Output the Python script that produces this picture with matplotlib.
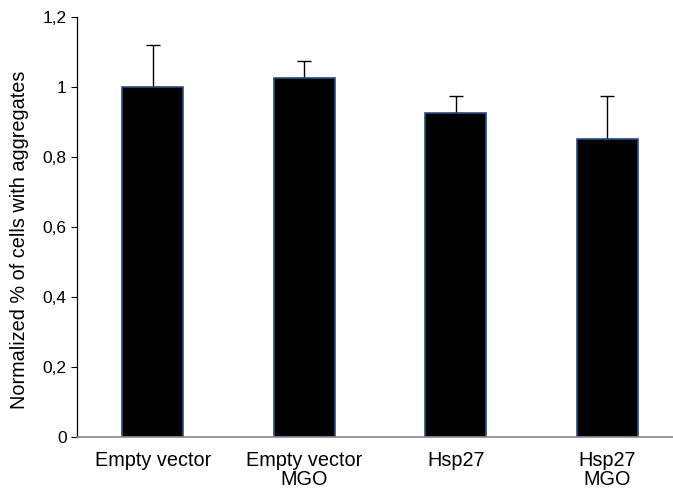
import matplotlib.pyplot as plt

# Datos
grupos = ['Empty vector', 'Empty vector\nMGO', 'Hsp27', 'Hsp27\nMGO']
valores = [1.0, 1.025, 0.925, 0.851]
errores = [0.12, 0.051, 0.05, 0.124]
ticks_y = [0, 0.2, 0.4, 0.6, 0.8, 1.0, 1.2]
etiquetas_y = ['0', '0,2', '0,4', '0,6', '0,8', '1', '1,2']

plt.rcParams['font.family'] = ['Liberation Sans', 'DejaVu Sans']

fig = plt.figure(figsize=(6.73, 4.93), dpi=100)
ax = fig.add_axes([0.1144, 0.1142, 0.9004, 0.8507])

x = range(len(grupos))
ax.bar(x, valores, width=0.4, color='black', edgecolor='#2a4d7e', linewidth=1.2, zorder=2)
ax.errorbar(x, valores, yerr=[[0] * len(errores), errores], fmt='none',
            ecolor='black', elinewidth=1, capsize=5, capthick=1, zorder=1)

ax.set_xlim(-0.5, 3.5)
ax.set_ylim(0, 1.2)
ax.set_yticks(ticks_y)
ax.set_yticklabels(etiquetas_y, fontsize=12.5)
ax.set_xticks(list(x))
ax.set_xticklabels(grupos, fontsize=14.3, linespacing=1.05)
ax.tick_params(axis='x', length=0, pad=10)
ax.tick_params(axis='y', length=4.5, width=0.8, direction='out', pad=3)

ax.spines['top'].set_visible(False)
ax.spines['right'].set_visible(False)
ax.spines['left'].set_linewidth(0.9)
ax.spines['bottom'].set_color('#888888')
ax.spines['bottom'].set_linewidth(1.2)

ax.set_ylabel('Normalized % of cells with aggregates', fontsize=14.3)
ax.yaxis.set_label_coords(-0.079, 0.47)

plt.savefig('out.png', dpi=100)
